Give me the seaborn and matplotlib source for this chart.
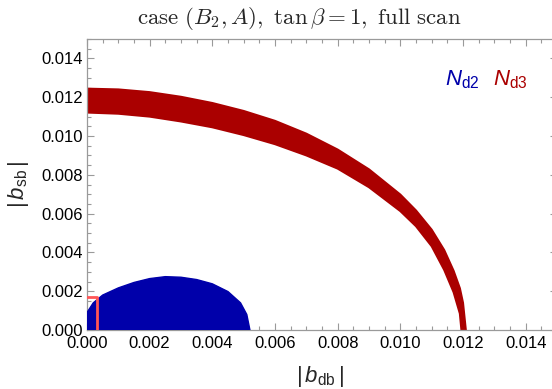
import numpy as np
import pandas as pd
import matplotlib
matplotlib.use("Agg")
import matplotlib.pyplot as plt
import seaborn as sns
from matplotlib.ticker import MultipleLocator, FormatStrFormatter

# ---- data ----
# N_d3 band (red): outer and inner boundary of the scatter cloud
nd3_outer_x = [0.0, 0.0010, 0.0020, 0.0030, 0.0040, 0.0050, 0.0060, 0.0070, 0.0080,
               0.0090, 0.0100, 0.0105, 0.0110, 0.0114, 0.0117, 0.0119, 0.0120, 0.01209]
nd3_outer_y = [0.01244, 0.01240, 0.01226, 0.01202, 0.01170, 0.01129, 0.01078, 0.01012, 0.00930,
               0.00828, 0.00698, 0.00616, 0.00517, 0.00412, 0.00305, 0.00215, 0.00140, 0.0]
nd3_inner_x = [0.0, 0.0010, 0.0020, 0.0030, 0.0040, 0.0050, 0.0060, 0.0070, 0.0080,
               0.0090, 0.0100, 0.0105, 0.0110, 0.0114, 0.0117, 0.0119, 0.01195]
nd3_inner_y = [0.01121, 0.01115, 0.01100, 0.01075, 0.01045, 0.01005, 0.00958, 0.00900, 0.00832,
               0.00736, 0.00613, 0.00535, 0.00432, 0.00310, 0.00195, 0.00085, 0.0]

# N_d2 region (blue): upper boundary of the scatter cloud
nd2_x = [0.0, 0.0002, 0.0005, 0.0010, 0.0015, 0.0020, 0.0025, 0.0030, 0.0035,
         0.0040, 0.0045, 0.0049, 0.0051, 0.0052]
nd2_y = [0.0009, 0.0014, 0.0018, 0.00217, 0.00245, 0.00265, 0.00275, 0.00272,
         0.0026, 0.00238, 0.00198, 0.00140, 0.0008, 0.0]

# experimental bound box (red outline)
box_x = [0.00032, 0.00032, 0.0]
box_y = [0.0, 0.0017, 0.0017]

xticks = [0.000, 0.002, 0.004, 0.006, 0.008, 0.010, 0.012, 0.014]
yticks = [0.000, 0.002, 0.004, 0.006, 0.008, 0.010, 0.012, 0.014]

BLUE = "#0000AA"
RED = "#AA0000"
BOX = "#FF5555"
FRAME = "#9a9a9a"

sns.set_style("ticks")
plt.rcParams["mathtext.fontset"] = "custom"
plt.rcParams["mathtext.rm"] = "Liberation Sans"
plt.rcParams["mathtext.it"] = "Liberation Sans:italic"
plt.rcParams["font.family"] = ["Liberation Sans", "DejaVu Sans"]

fig = plt.figure(figsize=(5.52, 3.89), dpi=100)
ax = fig.add_axes([87 / 552, 59 / 389, 470 / 552, 291 / 389])

# red band polygon
band_x = nd3_outer_x + nd3_inner_x[::-1]
band_y = nd3_outer_y + nd3_inner_y[::-1]
ax.fill(band_x, band_y, color=RED, lw=0, zorder=2)
band_df = pd.DataFrame({"x": band_x + [band_x[0]], "y": band_y + [band_y[0]]})
sns.lineplot(data=band_df, x="x", y="y", sort=False, estimator=None, color=RED,
             lw=1.5, ax=ax, zorder=2)

# blue region
blue_x = [0.0] + nd2_x
blue_y = [0.0] + nd2_y
ax.fill(blue_x, blue_y, color=BLUE, lw=0, zorder=3)
blue_df = pd.DataFrame({"x": nd2_x, "y": nd2_y})
sns.lineplot(data=blue_df, x="x", y="y", sort=False, estimator=None, color=BLUE,
             lw=1.0, ax=ax, zorder=3)

# box
box_df = pd.DataFrame({"x": box_x, "y": box_y})
sns.lineplot(data=box_df, x="x", y="y", sort=False, estimator=None, color=BOX,
             lw=2.0, ax=ax, zorder=4)

ax.set_xlim(0, 0.015)
ax.set_ylim(0, 0.015)
ax.set_xticks(xticks)
ax.set_yticks(yticks)
ax.xaxis.set_major_formatter(FormatStrFormatter("%.3f"))
ax.yaxis.set_major_formatter(FormatStrFormatter("%.3f"))
ax.xaxis.set_minor_locator(MultipleLocator(0.0005))
ax.yaxis.set_minor_locator(MultipleLocator(0.0005))
ax.tick_params(which="both", direction="in", top=True, right=True, color=FRAME,
               width=0.8, labelsize=12, labelcolor="black")
ax.tick_params(which="major", length=5)
ax.tick_params(which="minor", length=3)
ax.tick_params(axis="x", pad=4)
ax.tick_params(axis="y", pad=3)
for s in ax.spines.values():
    s.set_color(FRAME)
    s.set_linewidth(0.9)

ax.set_xlabel(r"$|\,b_{\mathrm{db}}\,|$", fontsize=16, math_fontfamily="custom")
ax.set_ylabel(r"$|\,b_{\mathrm{sb}}\,|$", fontsize=16, math_fontfamily="custom")
ax.xaxis.set_label_coords((320 - 87) / 470, -(364 - 330) / 291)
ax.yaxis.set_label_coords(-(87 - 31) / 470, 0.5)

fig.text(299 / 552, 1 - 18 / 389,
         r"$\mathrm{case}\ (B_2, A),\ \tan\beta = 1,\ \mathrm{full\ scan}$",
         fontsize=16.5, ha="center", va="center", math_fontfamily="cm")

fig.text(445 / 552, 1 - 80 / 389, r"$N_{\mathrm{d2}}$", color=BLUE, fontsize=16,
         ha="left", va="center", math_fontfamily="custom")
fig.text(493 / 552, 1 - 80 / 389, r"$N_{\mathrm{d3}}$", color=RED, fontsize=16,
         ha="left", va="center", math_fontfamily="custom")

ax.set_facecolor("white")
fig.savefig("out.png", dpi=100, facecolor="white")
